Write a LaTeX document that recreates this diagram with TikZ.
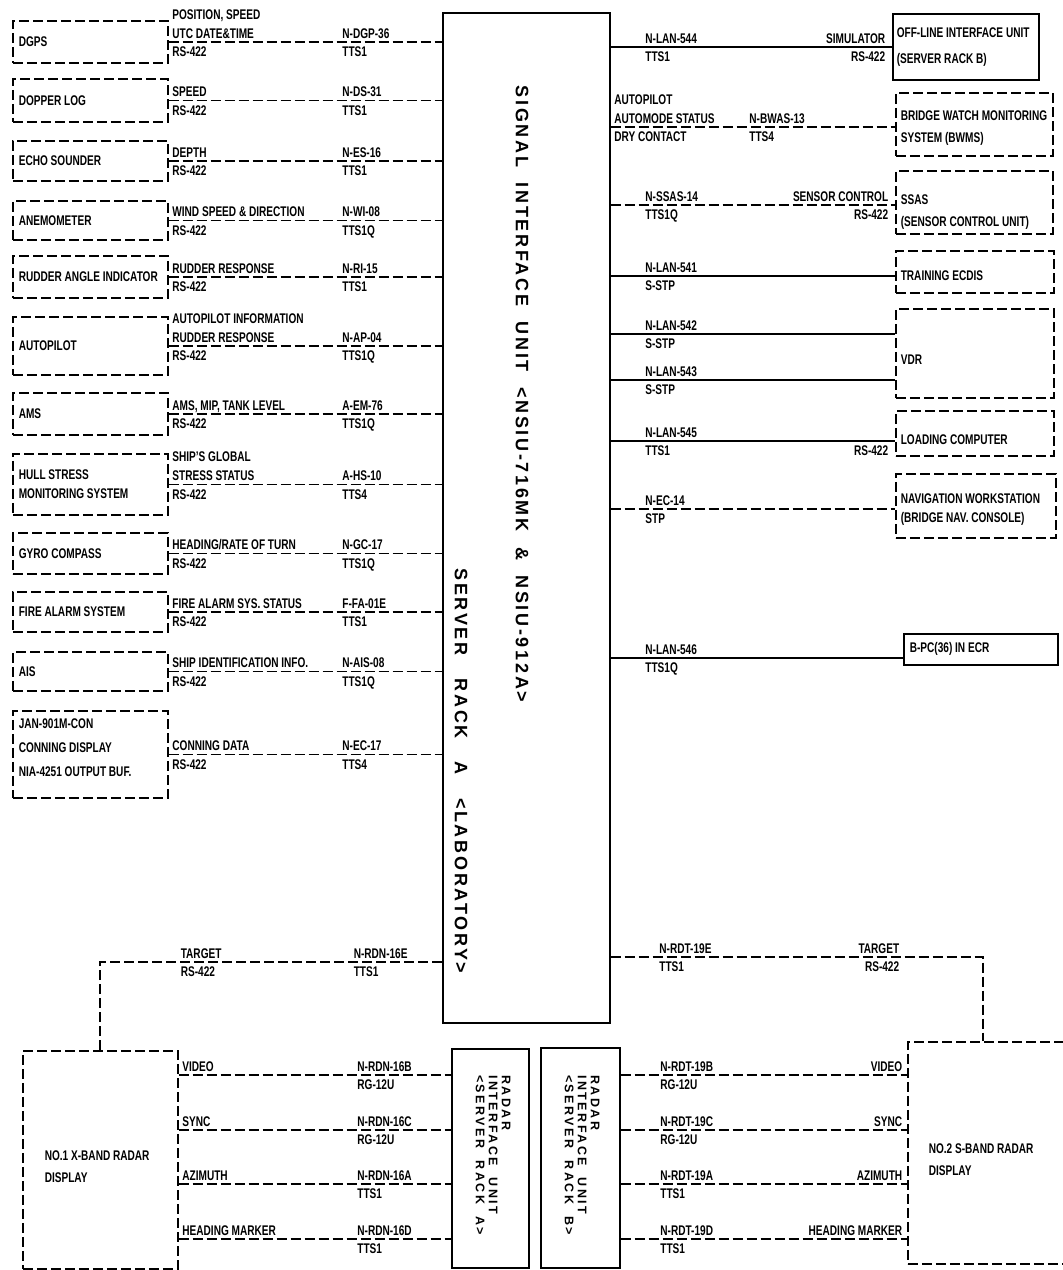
\documentclass[tikz,border=0pt]{standalone}
\usepackage{fontspec}
\setmainfont[FakeStretch=0.72]{Liberation Sans}
\newfontfamily\unitfont[LetterSpace=15]{Liberation Sans}
\newfontfamily\rackfont[LetterSpace=20]{Liberation Sans}
\usetikzlibrary{positioning}

\tikzset{
  lbl/.style={inner sep=0pt, text height=10pt, text depth=0pt},
  up/.style={lbl, anchor=south west, xshift=#1, yshift=3pt}, up/.default=3pt,
  dn/.style={lbl, anchor=north west, xshift=#1, yshift=-4pt}, dn/.default=3pt,
  upr/.style={lbl, anchor=south east, xshift=-#1, yshift=3pt}, upr/.default=6pt,
  dnr/.style={lbl, anchor=north east, xshift=-#1, yshift=-4pt}, dnr/.default=6pt,
  topline/.style={lbl, anchor=south west, xshift=#1, yshift=22pt}, topline/.default=3pt,
  dashline/.style={line width=1.6pt, dash pattern=on 10pt off 4pt},
  link/.style={dashline},
  wire/.style={line width=1.6pt},
  nobreak/.style={execute at begin node={\spaceskip=0pt\xspaceskip=0pt\hyphenpenalty=10000\exhyphenpenalty=10000}},
  devbox/.style={draw, dashline, anchor=north west, nobreak, inner xsep=6pt, inner ysep=2pt},
  unitbox/.style={draw, line width=1.6pt, anchor=north west, nobreak, inner xsep=6pt, inner ysep=2pt}
}

\begin{document}
\begin{tikzpicture}[x=1pt, y=-1pt, every node/.style={font=\bfseries\fontsize{14}{19}\selectfont}]
\clip (0,0) rectangle (1063,1270);

\node[unitbox, minimum width=167pt, minimum height=1010pt] (siu) at (442,12) {};
\node[rotate=-90, font={\unitfont\bfseries\fontsize{18}{20}\selectfont}] (siu-t) at (522,394) {SIGNAL~~INTERFACE~~UNIT~~<NSIU-716MK~~\&~~NSIU-912A>};
\node[rotate=-90, font={\unitfont\bfseries\fontsize{18}{20}\selectfont}] (siu-r) at (461,771) {SERVER~~~RACK~~~A~~~<LABORATORY>};

\node[devbox, text width=143pt, minimum height=42pt] (dgps) at (12,20) {DGPS};
\node[devbox, text width=143pt, minimum height=43pt] (dlog) at (12,78) {DOPPER LOG};
\node[devbox, text width=143pt, minimum height=40pt] (echo) at (12,140) {ECHO SOUNDER};
\node[devbox, text width=143pt, minimum height=39pt] (anemo) at (12,200) {ANEMOMETER};
\node[devbox, text width=143pt, minimum height=42pt] (rudder) at (12,255) {RUDDER~ANGLE~INDICATOR};
\node[devbox, text width=143pt, minimum height=58pt] (apilot) at (12,316) {AUTOPILOT};
\node[devbox, text width=143pt, minimum height=42pt] (ams) at (12,392) {AMS};
\node[devbox, text width=143pt, minimum height=61pt] (hull) at (12,453) {HULL STRESS\\MONITORING~SYSTEM};
\node[devbox, text width=143pt, minimum height=41pt] (gyro) at (12,532) {GYRO COMPASS};
\node[devbox, text width=143pt, minimum height=40pt] (fire) at (12,591) {FIRE ALARM SYSTEM};
\node[devbox, text width=143pt, minimum height=39pt] (ais) at (12,651) {AIS};
\node[devbox, text width=143pt, text depth=62pt, minimum height=87pt] (jan) at (12,710) {JAN-901M-CON\\[5pt]CONNING~DISPLAY\\[5pt]NIA-4251~OUTPUT~BUF.};

\draw[link] (dgps) -- (dgps -| siu.west)
  node[up, at start] (dgps-s) {UTC DATE\&TIME} node[topline, at start] (dgps-p) {POSITION, SPEED}
  node[dn, at start] (dgps-r) {RS-422} node[up=173pt, at start] (dgps-c) {N-DGP-36} node[dn=173pt, at start] (dgps-t) {TTS1};
\draw[link] (dlog) -- (dlog -| siu.west)
  node[up, at start] (dlog-s) {SPEED} node[dn, at start] (dlog-r) {RS-422}
  node[up=173pt, at start] (dlog-c) {N-DS-31} node[dn=173pt, at start] (dlog-t) {TTS1};
\draw[link] (echo) -- (echo -| siu.west)
  node[up, at start] (echo-s) {DEPTH} node[dn, at start] (echo-r) {RS-422}
  node[up=173pt, at start] (echo-c) {N-ES-16} node[dn=173pt, at start] (echo-t) {TTS1};
\draw[link] (anemo) -- (anemo -| siu.west)
  node[up, at start] (anemo-s) {WIND SPEED \& DIRECTION} node[dn, at start] (anemo-r) {RS-422}
  node[up=173pt, at start] (anemo-c) {N-WI-08} node[dn=173pt, at start] (anemo-t) {TTS1Q};
\draw[link] (rudder) -- (rudder -| siu.west)
  node[up, at start] (rudder-s) {RUDDER RESPONSE} node[dn, at start] (rudder-r) {RS-422}
  node[up=173pt, at start] (rudder-c) {N-RI-15} node[dn=173pt, at start] (rudder-t) {TTS1};
\draw[link] (apilot) -- (apilot -| siu.west)
  node[up, at start] (apilot-s) {RUDDER RESPONSE} node[topline, at start] (apilot-p) {AUTOPILOT INFORMATION}
  node[dn, at start] (apilot-r) {RS-422} node[up=173pt, at start] (apilot-c) {N-AP-04} node[dn=173pt, at start] (apilot-t) {TTS1Q};
\draw[link] (ams) -- (ams -| siu.west)
  node[up, at start] (ams-s) {AMS, MIP, TANK LEVEL} node[dn, at start] (ams-r) {RS-422}
  node[up=173pt, at start] (ams-c) {A-EM-76} node[dn=173pt, at start] (ams-t) {TTS1Q};
\draw[link] (hull) -- (hull -| siu.west)
  node[up, at start] (hull-s) {STRESS STATUS} node[topline, at start] (hull-p) {SHIP'S GLOBAL}
  node[dn, at start] (hull-r) {RS-422} node[up=173pt, at start] (hull-c) {A-HS-10} node[dn=173pt, at start] (hull-t) {TTS4};
\draw[link] (gyro) -- (gyro -| siu.west)
  node[up, at start] (gyro-s) {HEADING/RATE OF TURN} node[dn, at start] (gyro-r) {RS-422}
  node[up=173pt, at start] (gyro-c) {N-GC-17} node[dn=173pt, at start] (gyro-t) {TTS1Q};
\draw[link] (fire) -- (fire -| siu.west)
  node[up, at start] (fire-s) {FIRE ALARM SYS. STATUS} node[dn, at start] (fire-r) {RS-422}
  node[up=173pt, at start] (fire-c) {F-FA-01E} node[dn=173pt, at start] (fire-t) {TTS1};
\draw[link] (ais) -- (ais -| siu.west)
  node[up, at start] (ais-s) {SHIP IDENTIFICATION INFO.} node[dn, at start] (ais-r) {RS-422}
  node[up=173pt, at start] (ais-c) {N-AIS-08} node[dn=173pt, at start] (ais-t) {TTS1Q};
\draw[link] (jan) -- (jan -| siu.west)
  node[up, at start] (jan-s) {CONNING DATA} node[dn, at start] (jan-r) {RS-422}
  node[up=173pt, at start] (jan-c) {N-EC-17} node[dn=173pt, at start] (jan-t) {TTS4};

\node[unitbox, inner xsep=4pt, text width=138pt, minimum height=66pt] (offline) at (892,13) {OFF-LINE~INTERFACE~UNIT\\[7pt](SERVER~RACK~B)};
\node[devbox, inner xsep=5pt, text width=147pt, text height=18pt, minimum height=63pt] (bwms) at (895,92) {BRIDGE~WATCH~MONITORING\\[3pt]SYSTEM~(BWMS)};
\node[devbox, inner xsep=5pt, text width=147pt, text height=30pt, minimum height=63pt] (ssas) at (895,170) {SSAS\\[3pt](SENSOR~CONTROL~UNIT)};
\node[devbox, inner xsep=5pt, text width=148pt, text height=18pt, minimum height=42pt] (ecdis) at (895,250) {TRAINING ECDIS};
\node[devbox, inner xsep=5pt, text width=148pt, text height=22pt, minimum height=89pt] (vdr) at (895,308) {VDR};
\node[devbox, inner xsep=5pt, text width=148pt, text height=22pt, minimum height=45pt] (load) at (895,410) {LOADING COMPUTER};
\node[devbox, inner xsep=5pt, text width=150pt, text height=18pt, minimum height=64pt] (nav) at (895,473) {NAVIGATION~WORKSTATION\\(BRIDGE~NAV.~CONSOLE)};
\node[unitbox, text width=142pt, minimum height=31pt] (bpc) at (903,633) {B-PC(36) IN ECR};

\coordinate (r1) at (0,47);
\coordinate (r2) at (0,127);
\coordinate (r3) at (0,205);
\coordinate (r4) at (0,276);
\coordinate (r5) at (0,334);
\coordinate (r6) at (0,380);
\coordinate (r7) at (0,441);
\coordinate (r8) at (0,509);
\coordinate (r9) at (0,658);

\draw[wire] (r1 -| siu.east) -- (r1 -| offline.west)
  node[up=34pt, at start] (r1-c) {N-LAN-544} node[dn=34pt, at start] (r1-t) {TTS1}
  node[upr, at end] (r1-u) {SIMULATOR} node[dnr, at end] (r1-r) {RS-422};
\draw[link] (r2 -| siu.east) -- (r2 -| bwms.west)
  node[up, at start] (r2-s) {AUTOMODE STATUS} node[topline, at start] (r2-p) {AUTOPILOT}
  node[dn, at start] (r2-d) {DRY CONTACT} node[up=138pt, at start] (r2-c) {N-BWAS-13} node[dn=138pt, at start] (r2-t) {TTS4};
\draw[link] (r3 -| siu.east) -- (r3 -| ssas.west)
  node[up=34pt, at start] (r3-c) {N-SSAS-14} node[dn=34pt, at start] (r3-t) {TTS1Q}
  node[upr, at end] (r3-u) {SENSOR CONTROL} node[dnr, at end] (r3-r) {RS-422};
\draw[wire] (r4 -| siu.east) -- (r4 -| ecdis.west)
  node[up=34pt, at start] (r4-c) {N-LAN-541} node[dn=34pt, at start] (r4-t) {S-STP};
\draw[wire] (r5 -| siu.east) -- (r5 -| vdr.west)
  node[up=34pt, at start] (r5-c) {N-LAN-542} node[dn=34pt, at start] (r5-t) {S-STP};
\draw[wire] (r6 -| siu.east) -- (r6 -| vdr.west)
  node[up=34pt, at start] (r6-c) {N-LAN-543} node[dn=34pt, at start] (r6-t) {S-STP};
\draw[wire] (r7 -| siu.east) -- (r7 -| load.west)
  node[up=34pt, at start] (r7-c) {N-LAN-545} node[dn=34pt, at start] (r7-t) {TTS1}
  node[dnr, at end] (r7-r) {RS-422};
\draw[link] (r8 -| siu.east) -- (r8 -| nav.west)
  node[up=34pt, at start] (r8-c) {N-EC-14} node[dn=34pt, at start] (r8-t) {STP};
\draw[wire] (r9 -| siu.east) -- (r9 -| bpc.west)
  node[up=34pt, at start] (r9-c) {N-LAN-546} node[dn=34pt, at start] (r9-t) {TTS1Q};

\node[devbox, inner xsep=22pt, text width=111pt, text height=24pt, minimum height=218pt] (no1) at (22,1050) {NO.1~X-BAND~RADAR\\[3pt]DISPLAY};
\node[devbox, inner xsep=21pt, text width=128pt, text height=24pt, minimum height=222pt] (no2) at (907,1041) {NO.2~S-BAND~RADAR\\[3pt]DISPLAY};
\node[unitbox, minimum width=77pt, minimum height=219pt] (rada) at (451,1048) {};
\node[unitbox, minimum width=79pt, minimum height=220pt] (radb) at (540,1047) {};
\node[rotate=-90, align=left, font={\rackfont\bfseries\fontsize{12.5}{13}\selectfont}] (rada-t) at (493,1155) {RADAR\\INTERFACE~~UNIT\\<SERVER~~RACK~~A>};
\node[rotate=-90, align=left, font={\rackfont\bfseries\fontsize{12.5}{13}\selectfont}] (radb-t) at (582,1155) {RADAR\\INTERFACE~~UNIT\\<SERVER~~RACK~~B>};

\coordinate (tl) at (100,962);
\coordinate (tr) at (983,957);
\draw[link] (no1.north -| tl) -- (tl) -- (tl -| siu.west)
  node[up=80pt, at start] (tl-u) {TARGET} node[dn=80pt, at start] (tl-r) {RS-422}
  node[up=253pt, at start] (tl-c) {N-RDN-16E} node[dn=253pt, at start] (tl-t) {TTS1};
\draw[link] (tr -| siu.east) -- (tr)
  node[up=48pt, at start] (tr-c) {N-RDT-19E} node[dn=48pt, at start] (tr-t) {TTS1}
  node[upr=83pt, at end] (tr-u) {TARGET} node[dnr=83pt, at end] (tr-r) {RS-422}
  -- (tr |- no2.north);

\coordinate (vid) at (0,1075);
\coordinate (syn) at (0,1130);
\coordinate (azi) at (0,1184);
\coordinate (hdg) at (0,1239);

\draw[link] (vid -| no1.east) -- (vid -| rada.west)
  node[up, at start] (vid-l) {VIDEO} node[up=178pt, at start] (vid-c) {N-RDN-16B} node[dn=178pt, at start] (vid-t) {RG-12U};
\draw[link] (syn -| no1.east) -- (syn -| rada.west)
  node[up, at start] (syn-l) {SYNC} node[up=178pt, at start] (syn-c) {N-RDN-16C} node[dn=178pt, at start] (syn-t) {RG-12U};
\draw[link] (azi -| no1.east) -- (azi -| rada.west)
  node[up, at start] (azi-l) {AZIMUTH} node[up=178pt, at start] (azi-c) {N-RDN-16A} node[dn=178pt, at start] (azi-t) {TTS1};
\draw[link] (hdg -| no1.east) -- (hdg -| rada.west)
  node[up, at start] (hdg-l) {HEADING MARKER} node[up=178pt, at start] (hdg-c) {N-RDN-16D} node[dn=178pt, at start] (hdg-t) {TTS1};

\draw[link] (vid -| radb.east) -- (vid -| no2.west)
  node[up=39pt, at start] (vid-d) {N-RDT-19B} node[dn=39pt, at start] (vid-s) {RG-12U} node[upr=4pt, at end] (vid-r) {VIDEO};
\draw[link] (syn -| radb.east) -- (syn -| no2.west)
  node[up=39pt, at start] (syn-d) {N-RDT-19C} node[dn=39pt, at start] (syn-s) {RG-12U} node[upr=4pt, at end] (syn-r) {SYNC};
\draw[link] (azi -| radb.east) -- (azi -| no2.west)
  node[up=39pt, at start] (azi-d) {N-RDT-19A} node[dn=39pt, at start] (azi-s) {TTS1} node[upr=4pt, at end] (azi-r) {AZIMUTH};
\draw[link] (hdg -| radb.east) -- (hdg -| no2.west)
  node[up=39pt, at start] (hdg-d) {N-RDT-19D} node[dn=39pt, at start] (hdg-s) {TTS1} node[upr=4pt, at end] (hdg-r) {HEADING MARKER};
\end{tikzpicture}
\end{document}
